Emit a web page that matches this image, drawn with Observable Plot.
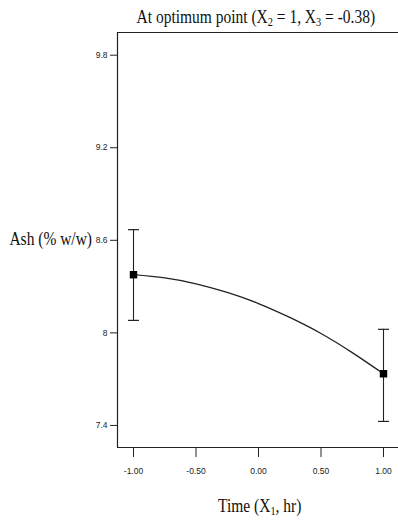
<!DOCTYPE html>
<html>
<head>
<meta charset="utf-8">
<script src="https://cdn.jsdelivr.net/npm/d3@7"></script>
<script src="https://cdn.jsdelivr.net/npm/@observablehq/plot@0.6"></script>
<style>
  body { margin: 0; background: #fff; }
  #wrap { position: relative; width: 398px; height: 520px; overflow: hidden; background:#fff; }
  .lbl { position: absolute; font-family: "Liberation Serif", "DejaVu Serif", "Times New Roman", serif; font-size: 18px; color: #111; white-space: nowrap; line-height: 22px; }
  .lbl sub { font-size: 12px; vertical-align: -3px; line-height: 0; }
  #title { left: 0; width: 595px; top: 6px; text-align: center; transform: scaleX(0.86); transform-origin: 0 0; }
  #xlabel { left: 0; width: 604px; top: 495px; text-align: center; transform: scaleX(0.86); transform-origin: 0 0; }
  #ylabel { right: 306px; top: 228px; transform: scaleX(0.86); transform-origin: 100% 0; }
  #chart { position: absolute; left: 0; top: 30px; }
</style>
</head>
<body>
<div id="wrap">
  <div id="title" class="lbl">At optimum point (X<sub>2</sub> = 1, X<sub>3</sub> = -0.38)</div>
  <div id="chart"></div>
  <div id="ylabel" class="lbl">Ash (% w/w)</div>
  <div id="xlabel" class="lbl">Time (X<sub>1</sub>, hr)</div>
</div>
<script>
// Design points (time, coded) with mean and error-bar limits
const pointX = [-1, 1];
const pointY = [8.377, 7.735];
const errLow = [8.081, 7.426];
const errHigh = [8.669, 8.023];

// Predicted response curve
const curveX = [-1, -0.75, -0.5, -0.25, 0, 0.25, 0.5, 0.75, 1];
const curveY = [8.377, 8.356, 8.318, 8.262, 8.19, 8.10, 7.996, 7.872, 7.735];

// Axis ticks
const xTicks = [-1, -0.5, 0, 0.5, 1];
const yTicks = [7.4, 8, 8.6, 9.2, 9.8];
const xDomain = [-1.128, 1.12];
const yDomain = [7.257, 9.947];

const points = pointX.map((x, i) => ({x, y: pointY[i], lo: errLow[i], hi: errHigh[i]}));
const curve = curveX.map((x, i) => ({x, y: curveY[i]}));

const capSymbol = {
  draw(ctx) { ctx.moveTo(-5.5, 0); ctx.lineTo(5.5, 0); }
};

const ink = "#222";

const chart = Plot.plot({
  width: 398,
  height: 450,
  marginLeft: 117,
  marginRight: 0,
  marginTop: 2,
  marginBottom: 33,
  style: { background: "transparent", fontFamily: "'Liberation Sans', Arial, sans-serif", fontSize: "8.5px", color: "#222" },
  x: { domain: xDomain },
  y: { domain: yDomain },
  marks: [
    Plot.axisX({ ticks: xTicks, tickFormat: d => d.toFixed(2), tickSize: 10, tickPadding: 10, label: null, stroke: ink, fontSize: 8.5 }),
    Plot.axisY({ ticks: yTicks, tickFormat: d => String(d), tickSize: 7, tickPadding: 3, label: null, stroke: ink, fontSize: 8.5 }),
    Plot.ruleX([xDomain[0]], { stroke: ink, strokeWidth: 1.2 }),
    Plot.ruleY([yDomain[0]], { stroke: ink, strokeWidth: 1.2 }),
    Plot.ruleY([yDomain[1]], { stroke: ink, strokeWidth: 1.2 }),
    Plot.line(curve, { x: "x", y: "y", curve: "natural", stroke: ink, strokeWidth: 1.3 }),
    Plot.ruleX(points, { x: "x", y1: "lo", y2: "hi", stroke: ink, strokeWidth: 1.1 }),
    Plot.dot(points, { x: "x", y: "lo", symbol: capSymbol, stroke: ink, fill: "none", strokeWidth: 1.2 }),
    Plot.dot(points, { x: "x", y: "hi", symbol: capSymbol, stroke: ink, fill: "none", strokeWidth: 1.2 }),
    Plot.dot(points, { x: "x", y: "y", symbol: "square", r: 4.2, fill: "#000", stroke: "none" })
  ]
});
document.getElementById("chart").appendChild(chart);
</script>
</body>
</html>
